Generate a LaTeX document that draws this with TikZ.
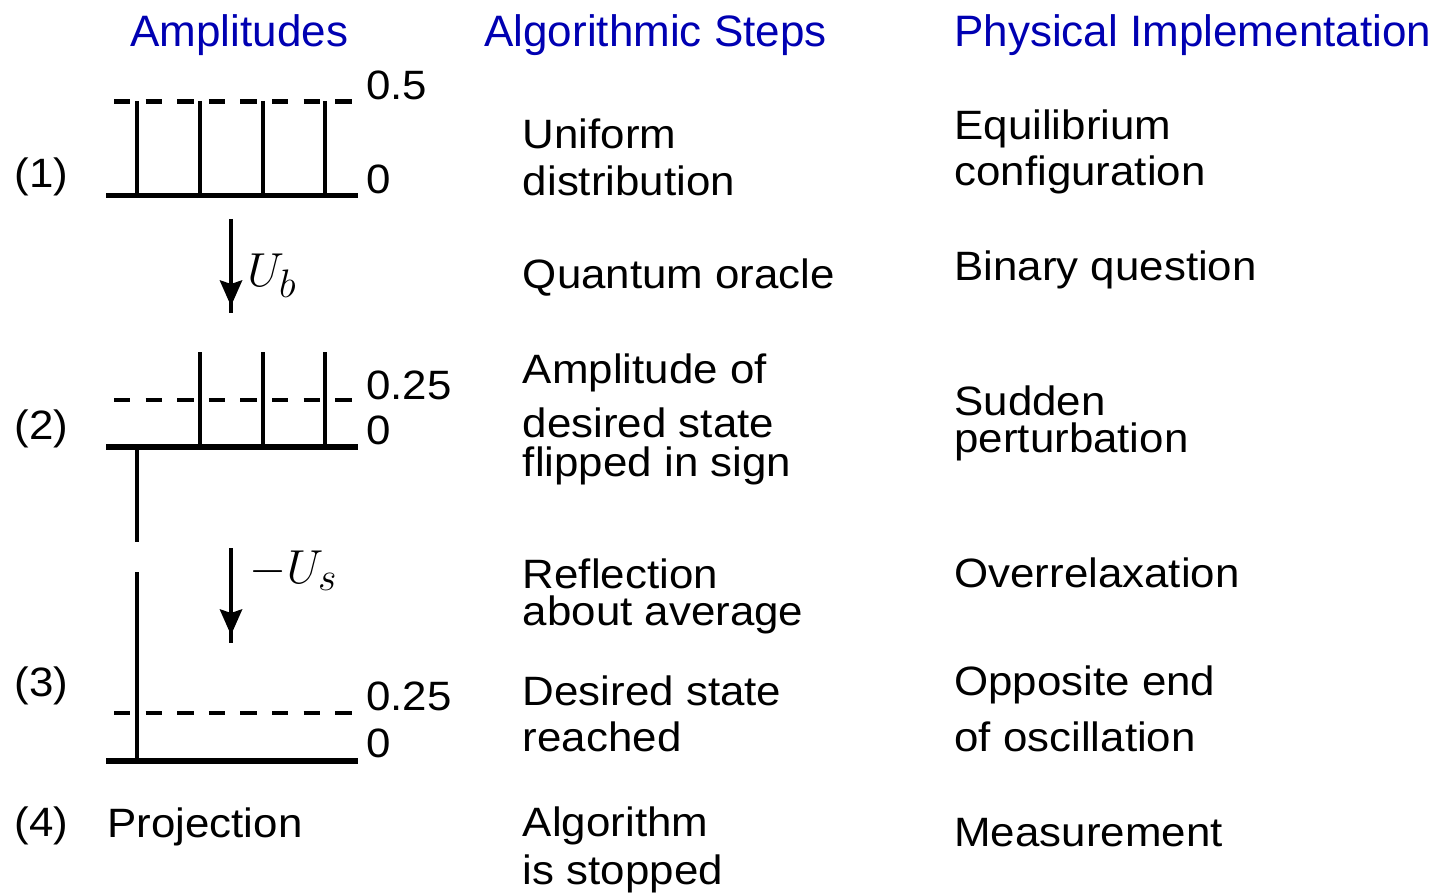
\documentclass[tikz,border=0pt]{standalone}
\usepackage{fontspec}
\setmainfont[FakeStretch=1.07]{Liberation Sans}
\newfontfamily\headfont{Liberation Sans}
\definecolor{headblue}{RGB}{0,0,178}
\begin{document}
\begin{tikzpicture}[x=0.5pt,y=-0.5pt,
  txt/.style={anchor=base west,inner sep=0pt,font=\fontsize{20.5}{24}\selectfont},
  head/.style={anchor=base west,inner sep=0pt,font=\headfont\fontsize{22}{26}\selectfont,text=headblue},
  mth/.style={anchor=base west,inner sep=0pt,font=\fontsize{20.74}{25}\selectfont},
  baseln/.style={line width=2.8pt},
  bar/.style={line width=2pt},
  dashline/.style={line width=2.4pt,dash pattern=on 8.2pt off 7.6pt},
  stem/.style={line width=2pt},
  tiphead/.style={fill=black}]
\useasboundingbox (0,0) rectangle (1433,893);

% headers
\node[head] (h1) at (130,46.5) {Amplitudes};
\node[head] (h2) at (484,46.5) {Algorithmic Steps};
\node[head] (h3) at (954,46.5) {Physical Implementation};

% step labels
\node[txt] (l1) at (14,187.5) {(1)};
\node[txt] (l2) at (14,439) {(2)};
\node[txt] (l3) at (14,696.5) {(3)};
\node[txt] (l4) at (14,836) {(4)};
\node[txt] (proj) at (107,837) {Projection};

% amplitude values
\node[txt] (v1a) at (366,100) {0.5};
\node[txt] (v1b) at (366,193.3) {0};
\node[txt] (v2a) at (366,399.3) {0.25};
\node[txt] (v2b) at (366,444) {0};
\node[txt] (v3a) at (366,710.7) {0.25};
\node[txt] (v3b) at (366,757.5) {0};

% (1) uniform amplitudes
\draw[dashline] (114,101.7) -- (352,101.7);
\foreach \xx in {137,200,263,325} \draw[bar] (\xx,101) -- (\xx,195);
\draw[baseln] (106,195.5) -- (358,195.5);

% (2) sign flipped
\draw[dashline] (114,400) -- (352,400);
\foreach \xx in {200,263,325} \draw[bar] (\xx,352) -- (\xx,446);
\draw[bar] (137,446) -- (137,541.7);
\draw[baseln] (106,446.7) -- (358,446.7);

% (3) desired state reached
\draw[dashline] (114,713) -- (352,713);
\draw[bar] (137,572) -- (137,760);
\draw[baseln] (106,760.7) -- (358,760.7);

% arrows
\coordinate (a1s) at (231,219);
\coordinate (a1e) at (231,313);
\draw[stem] (a1s) -- (a1e);
\fill[tiphead] ([shift={(-11.5,-33)}]a1e) -- ([shift={(0,-29)}]a1e) -- ([shift={(11.5,-33)}]a1e) -- ([shift={(0,-7)}]a1e) -- cycle;
\node[mth] (ub) at (247,286) {\scalebox{1.15}{$U_{\scalebox{1.2}{$\scriptstyle b$}}$}};

\coordinate (a2s) at (231,548);
\coordinate (a2e) at (231,643);
\draw[stem] (a2s) -- (a2e);
\fill[tiphead] ([shift={(-11.5,-34)}]a2e) -- ([shift={(0,-30)}]a2e) -- ([shift={(11.5,-34)}]a2e) -- ([shift={(0,-8)}]a2e) -- cycle;
\node[mth] (us) at (249,583) {\scalebox{1.15}{$-U_{\scalebox{1.2}{$\scriptstyle s$}}$}};

% algorithmic steps
\node[txt] (s1a) at (522.5,148.3) {Uniform};
\node[txt] (s1b) at (522.5,196) {distribution};
\node[txt] (s2) at (522.5,288.3) {Quantum oracle};
\node[txt] (s3a) at (522.5,383.3) {Amplitude of};
\node[txt] (s3b) at (522.5,437.7) {desired state};
\node[txt] (s3c) at (522.5,476) {flipped in sign};
\node[txt] (s4a) at (522.5,588.3) {Reflection};
\node[txt] (s4b) at (522.5,625) {about average};
\node[txt] (s5a) at (522.5,705) {Desired state};
\node[txt] (s5b) at (522.5,751.7) {reached};
\node[txt] (s6a) at (522.5,836.7) {Algorithm};
\node[txt] (s6b) at (522.5,884) {is stopped};

% physical implementation
\node[txt] (p1a) at (954,140) {Equilibrium};
\node[txt] (p1b) at (954,186) {configuration};
\node[txt] (p2) at (954,280.7) {Binary question};
\node[txt] (p3a) at (954,415) {Sudden};
\node[txt] (p3b) at (954,452.7) {perturbation};
\node[txt] (p4) at (954,587.3) {Overrelaxation};
\node[txt] (p5a) at (954,695.7) {Opposite end};
\node[txt] (p5b) at (954,751.7) {of oscillation};
\node[txt] (p6) at (954,846.7) {Measurement};
\end{tikzpicture}
\end{document}
